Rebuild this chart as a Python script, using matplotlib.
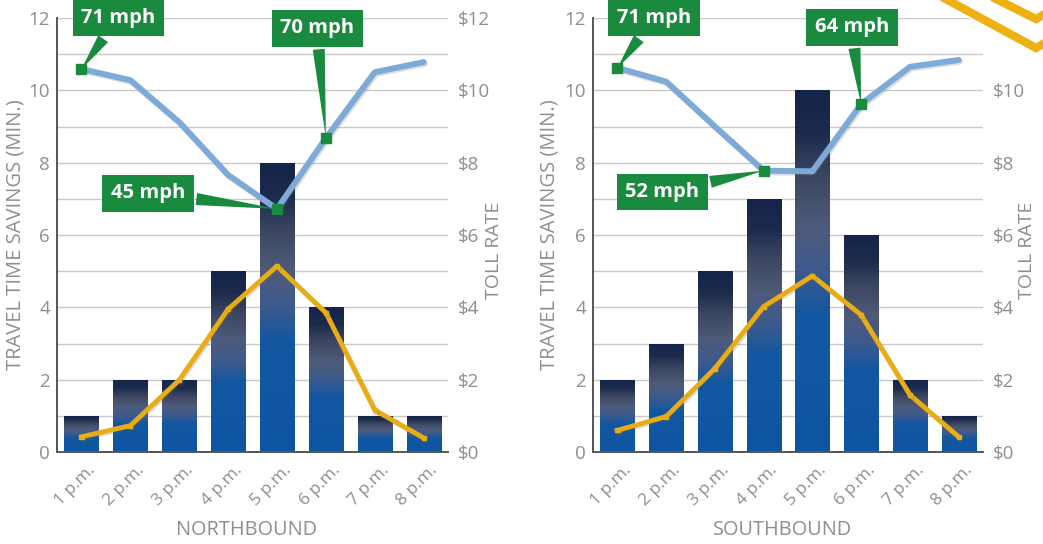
import matplotlib

matplotlib.use("Agg")
import matplotlib.pyplot as plt
import matplotlib.patheffects as pe
import matplotlib.transforms as mtransforms
import numpy as np
from matplotlib.colors import LinearSegmentedColormap
from matplotlib.lines import Line2D
from matplotlib.patches import Polygon

plt.rcParams["font.family"] = ["Open Sans", "DejaVu Sans"]

hours = ["1 p.m.", "2 p.m.", "3 p.m.", "4 p.m.", "5 p.m.", "6 p.m.", "7 p.m.", "8 p.m."]

# travel time savings (minutes)
north_savings = [1, 2, 2, 5, 8, 4, 1, 1]
south_savings = [2, 3, 5, 7, 10, 6, 2, 1]

# toll rate ($)
north_toll = [0.42, 0.73, 1.99, 3.95, 5.14, 3.85, 1.16, 0.39]
south_toll = [0.60, 0.98, 2.31, 4.02, 4.87, 3.79, 1.58, 0.42]

# speed trace, drawn on the shared 0-12 scale
north_speed = [10.59, 10.28, 9.12, 7.66, 6.72, 8.68, 10.50, 10.78]
south_speed = [10.62, 10.24, 9.00, 7.78, 7.76, 9.62, 10.65, 10.84]

# callouts: (label, hour index, text x, text y)
north_callouts = [("71 mph", 0, 0.75, 12.0), ("70 mph", 5, 4.82, 11.72), ("45 mph", 4, 1.36, 7.16)]
south_callouts = [("71 mph", 0, 0.75, 12.0), ("64 mph", 5, 4.81, 11.75), ("52 mph", 3, 0.92, 7.19)]

GREEN = "#1a8a3e"
BLUE_LINE = "#7eaad8"
GOLD = "#e8ad14"
GRAY_TXT = "#8e8e8e"

bar_cmap = LinearSegmentedColormap.from_list(
    "bar_grad",
    [(0.0, "#0e55a2"), (0.38, "#1257a0"), (0.5, "#3c5a8e"), (0.62, "#4e5b7a"),
     (0.76, "#3d4762"), (0.88, "#1c2b4d"), (1.0, "#14244a")],
)
grad = np.linspace(0, 1, 256).reshape(-1, 1)

shadow = [pe.SimpleLineShadow(offset=(1, -1.2), shadow_color="#666666", alpha=0.22), pe.Normal()]


def draw_panel(fig, ax, savings, toll, speed, callouts, title, ylab_x, tr_x):
    x = np.arange(len(hours))
    bars = ax.bar(x, savings, width=0.7, color="none", zorder=2)
    for b in bars:
        x0, w, h = b.get_x(), b.get_width(), b.get_height()
        im = ax.imshow(grad, extent=[x0, x0 + w, 0, h], origin="lower", cmap=bar_cmap,
                       aspect="auto", zorder=2)
        im.set_clip_path(b)

    ax.plot(x, toll, color=GOLD, lw=3.5, marker="s", ms=3, zorder=4, path_effects=shadow)
    ax.plot(x, speed, color=BLUE_LINE, lw=4.3, zorder=4, solid_capstyle="round",
            path_effects=shadow)

    for label, i, tx, ty in callouts:
        ax.plot(x[i], speed[i], marker="s", ms=6.5, color=GREEN, zorder=6)
        ax.annotate(
            label, xy=(x[i], speed[i]), xytext=(tx, ty), textcoords="data",
            ha="center", va="center", color="white", fontsize=14.5, fontweight="bold",
            bbox=dict(boxstyle="square,pad=0.42", fc=GREEN, ec="none"),
            arrowprops=dict(arrowstyle="wedge,tail_width=0.6,shrink_factor=0.5",
                            fc=GREEN, ec="none", shrinkB=0),
            zorder=7, annotation_clip=False,
        )

    ax.set_xlim(-0.5, len(hours) - 0.5)
    ax.set_ylim(0, 12)
    ax.set_yticks(range(0, 13, 2))
    ax.set_yticks(range(1, 13, 2), minor=True)
    ax.grid(axis="y", which="both", color="#c9c9c9", lw=1, zorder=0)
    ax.set_axisbelow(True)

    # hour labels, slanted and nudged right of each bar centre
    ax.set_xticks(x)
    ax.set_xticklabels([])
    lbl_tr = ax.get_xaxis_transform() + mtransforms.ScaledTranslation(
        6 / 100, -10 / 100, fig.dpi_scale_trans)
    for xi, h in zip(x, hours):
        ax.text(xi, 0, h, transform=lbl_tr, rotation=45, ha="right", va="top",
                rotation_mode="anchor", color=GRAY_TXT, fontsize=12.5)

    ax.tick_params(axis="both", which="both", length=0, colors=GRAY_TXT, labelsize=13.5)
    ax.tick_params(axis="y", pad=5)
    for s in ("top", "right"):
        ax.spines[s].set_visible(False)
    for s in ("left", "bottom"):
        ax.spines[s].set_color("#555555")
        ax.spines[s].set_linewidth(1.4)
    ax.set_ylabel("TRAVEL TIME SAVINGS (MIN.)", color=GRAY_TXT, fontsize=14.5)
    ax.yaxis.set_label_coords(ylab_x, 0.5)
    ax.text(0.485, -0.18, title, transform=ax.transAxes, ha="center", va="center",
            color=GRAY_TXT, fontsize=14.3)

    ax2 = ax.twinx()
    ax2.set_ylim(0, 12)
    ax2.set_yticks(range(0, 13, 2))
    ax2.set_yticklabels([f"${v}" for v in range(0, 13, 2)])
    ax2.tick_params(axis="y", length=0, colors=GRAY_TXT, labelsize=13.5, pad=7)
    for s in ax2.spines.values():
        s.set_visible(False)
    ax2.set_ylabel("TOLL RATE", color=GRAY_TXT, fontsize=14)
    ax2.yaxis.set_label_coords(tr_x, 0.465)


fig = plt.figure(figsize=(10.43, 5.44), dpi=100)
ax_n = fig.add_axes([0.0547, 0.1691, 0.3749, 0.7978])
ax_s = fig.add_axes([0.5686, 0.1691, 0.3739, 0.7978])
draw_panel(fig, ax_n, north_savings, north_toll, north_speed, north_callouts, "NORTHBOUND",
           -0.08, 1.095)
draw_panel(fig, ax_s, south_savings, south_toll, south_speed, south_callouts, "SOUTHBOUND",
           -0.085, 1.09)

# decorative chevrons in the top-right corner
W, H = 1043, 544


def fpt(px, py):
    return px / W, 1 - py / H


fig.patches.append(Polygon([fpt(930, -5), fpt(1036, 57), fpt(1050, 52), fpt(1050, -5)],
                           closed=True, fc="white", ec="none", transform=fig.transFigure,
                           zorder=20))
for pts in ([(942, -3), (1036, 48), (1050, 40)], [(992, -3), (1036, 19), (1050, 11)]):
    xs, ys = zip(*[fpt(*p) for p in pts])
    fig.lines.append(Line2D(xs, ys, color="#eeb112", lw=6, transform=fig.transFigure,
                            zorder=21, solid_joinstyle="miter"))

fig.savefig("out.png", dpi=100)
